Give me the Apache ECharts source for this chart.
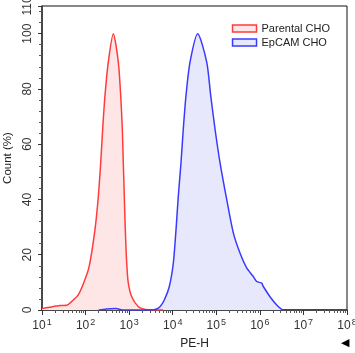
<!DOCTYPE html>
<html>
<head>
<meta charset="utf-8">
<script src="https://cdn.jsdelivr.net/npm/echarts@6/dist/echarts.min.js"></script>
<style>
    html, body { margin: 0; padding: 0; background: #fff; }
    #chart { width: 355px; height: 353px; }
</style>
</head>
<body>
<div id="chart"></div>
<script>
// PE-H (log scale) vs Count (%)
const parentalX = [10, 15, 26, 37, 52, 68, 89, 120, 164, 196, 222, 247, 279, 332, 433,
    564, 640, 697, 734, 774, 816, 879, 957, 1145, 1622, 2113, 3000, 6000];
const parentalY = [0.5, 1, 1.6, 1.7, 3.6, 5.5, 9.5, 15.5, 29, 41, 53, 65.5, 77.6, 89.7, 100,
    89.7, 77.6, 65.5, 53.3, 41.2, 29.1, 17, 9.7, 4.8, 1.2, 0.4, 0, 0];

const epcamX = [200, 300, 500, 700, 3000, 3930, 5110, 6410, 8360, 10330, 11910, 13440, 15490, 17490,
    20180, 24950, 37490, 60300, 74500, 93500, 121700, 173300, 246000, 350000, 499000, 708000,
    847000, 1104000, 1200000, 1710000, 2437000, 3170000, 3500000];
const epcamY = [0, 0.4, 0.5, 0, 0, 0.2, 1.2, 3.6, 8.5, 17, 29.1, 41.2, 53.3, 65.5,
    77.6, 89.7, 100, 89.7, 77.6, 65.5, 53.3, 40, 27.9, 20.6, 15.2, 12.1,
    10.3, 9.7, 8.5, 4.8, 1.8, 0.2, 0];

const seriesNames = ['Parental CHO', 'EpCAM CHO'];
const majorTicks = [10, 100, 1e3, 1e4, 1e5, 1e6, 1e7, 1e8];
const supers = ['1', '2', '3', '4', '5', '6', '7', '8'];

const minorTicks = [];
for (let d = 1; d < 8; d++) {
    for (let m = 2; m <= 9; m++) minorTicks.push(m * Math.pow(10, d));
}

function pairs(xs, ys) {
    return xs.map((x, i) => [x, ys[i]]);
}

const chart = echarts.init(document.getElementById('chart'));
const font = 'Liberation Sans, Arial, sans-serif';

chart.setOption({
    animation: false,
    textStyle: { fontFamily: font },
    grid: {
        left: 42, right: 8, top: 6, bottom: 43,
        outerBoundsMode: 'none',
        show: true, borderColor: '#111', borderWidth: 1
    },
    legend: {
        right: 20, top: 18,
        orient: 'vertical',
        icon: 'rect',
        itemWidth: 24, itemHeight: 7, itemGap: 3,
        textStyle: { fontSize: 11, color: '#222', fontFamily: font },
        data: [
            { name: seriesNames[0], itemStyle: { color: '#ffe6e6', borderColor: '#ff3b3b', borderWidth: 1.5 } },
            { name: seriesNames[1], itemStyle: { color: '#e8e8fc', borderColor: '#3a3aff', borderWidth: 1.5 } }
        ]
    },
    xAxis: [{
        type: 'log', logBase: 10, min: 10, max: 1e8,
        name: 'PE-H', nameLocation: 'middle', nameGap: 28,
        nameTextStyle: { fontSize: 12, color: '#222', fontFamily: font },
        axisLine: { lineStyle: { color: '#333', width: 1.5 } },
        axisTick: { show: true, length: 5, lineStyle: { color: '#333' }, customValues: majorTicks },
        splitLine: { show: false },
        axisLabel: {
            customValues: majorTicks,
            margin: 8,
            formatter: function (v) {
                const i = Math.round(Math.log10(v)) - 1;
                return '{b|10}{s|' + supers[i] + '}';
            },
            rich: {
                b: { fontSize: 12, color: '#333', fontFamily: font },
                s: { fontSize: 9, color: '#333', fontFamily: font, verticalAlign: 'top', padding: [0, 0, 6, 1] }
            }
        }
    }, {
        type: 'log', logBase: 10, min: 10, max: 1e8, position: 'bottom',
        axisLine: { show: false },
        axisTick: { show: true, length: 3, lineStyle: { color: '#555' }, customValues: minorTicks },
        axisLabel: { show: false },
        splitLine: { show: false }
    }],
    yAxis: {
        type: 'value', min: 0, max: 110, interval: 20,
        name: 'Count (%)', nameLocation: 'middle', nameGap: 28,
        nameTextStyle: { fontSize: 11.5, color: '#222', fontFamily: font },
        axisLine: { show: true, lineStyle: { color: '#333', width: 1.5 } },
        axisTick: { show: true, length: 4, lineStyle: { color: '#333' } },
        minorTick: { show: true, splitNumber: 5, length: 3, lineStyle: { color: '#555' } },
        splitLine: { show: false },
        axisLabel: { rotate: 90, fontSize: 12, color: '#333', margin: 8, fontFamily: font }
    },
    graphic: [{
        type: 'text', left: 341, top: 337,
        style: { text: '◀', fontSize: 11, fill: '#000' }
    }],
    series: [{
        name: seriesNames[0], type: 'line', smooth: 0.25, symbol: 'none',
        data: pairs(parentalX, parentalY),
        itemStyle: { color: '#ff3b3b' },
        lineStyle: { color: '#ff3b3b', width: 1.5 },
        areaStyle: { color: '#ffe6e6', opacity: 1 }
    }, {
        name: seriesNames[1], type: 'line', smooth: 0.25, symbol: 'none',
        data: pairs(epcamX, epcamY),
        itemStyle: { color: '#3a3aff' },
        lineStyle: { color: '#3a3aff', width: 1.5 },
        areaStyle: { color: '#e8e8fc', opacity: 1 }
    }]
});
</script>
</body>
</html>
